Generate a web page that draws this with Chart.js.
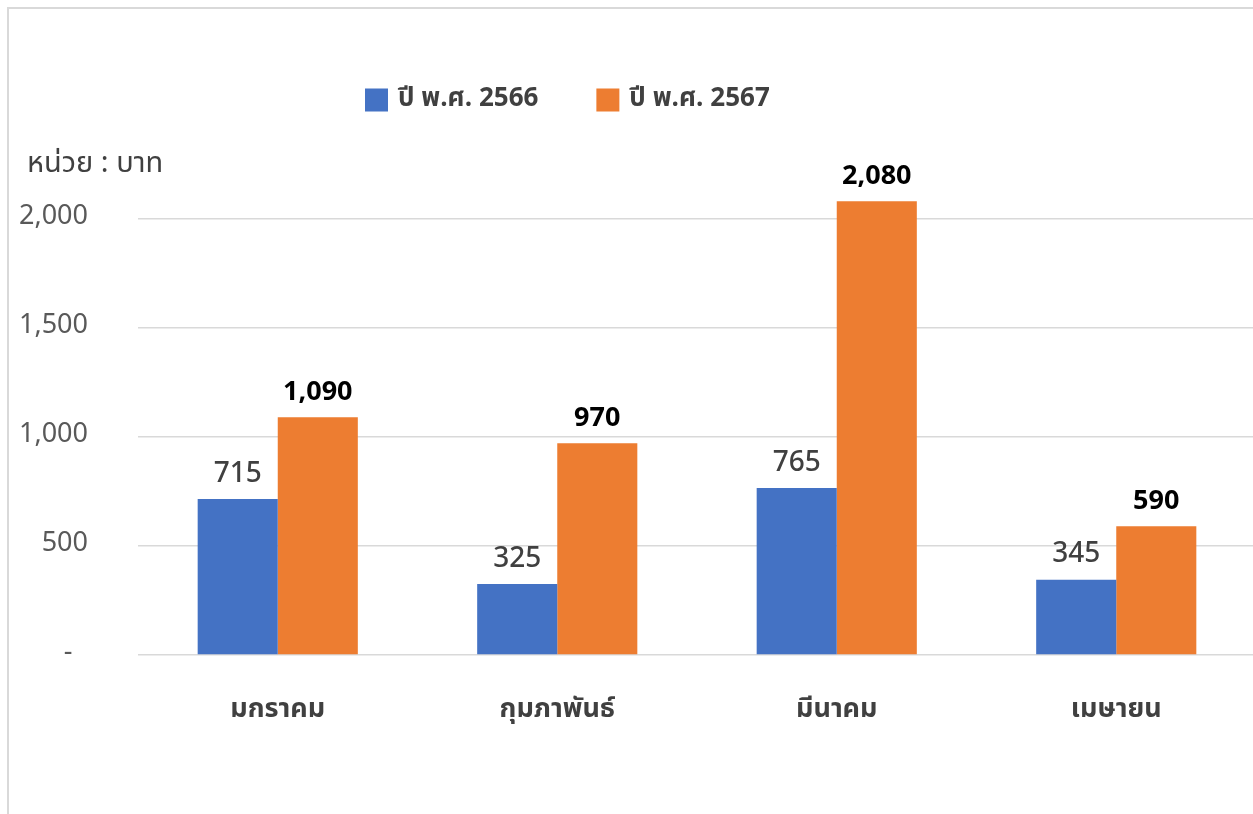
<!DOCTYPE html>
<html>
<head>
<meta charset="utf-8">
<script src="https://cdn.jsdelivr.net/npm/chart.js@4.4.1/dist/chart.umd.min.js"></script>
<style>
  html, body { margin: 0; padding: 0; background: #ffffff; overflow: hidden; }
  #wrap { position: absolute; left: 0; top: 0; width: 1256px; height: 814px; }
</style>
</head>
<body>
<div id="wrap"><canvas id="c"></canvas></div>
<script>
const categories = ['มกราคม', 'กุมภาพันธ์', 'มีนาคม', 'เมษายน'];
const seriesNames = ['ปี พ.ศ. 2566', 'ปี พ.ศ. 2567'];
const values2566 = [715, 325, 765, 345];
const values2567 = [1090, 970, 2080, 590];
const yTickValues = [0, 500, 1000, 1500, 2000];
const unitLabel = 'หน่วย : บาท';

const FONT = "'Noto Sans Thai', 'Noto Sans', 'DejaVu Sans', sans-serif";
const COLORS = ['#4472C4', '#ED7D31'];

function fmt(v) {
  return v === 0 ? '-\u2007' : v.toLocaleString('en-US');
}

const framePlugin = {
  id: 'frame',
  beforeDraw(chart) {
    const ctx = chart.ctx;
    ctx.save();
    ctx.fillStyle = '#ffffff';
    ctx.fillRect(0, 0, chart.width, chart.height);
    ctx.strokeStyle = '#d9d9d9';
    ctx.lineWidth = 2;
    ctx.beginPath();
    ctx.moveTo(8, chart.height);
    ctx.lineTo(8, 8);
    ctx.lineTo(chart.width, 8);
    ctx.stroke();
    ctx.restore();
  }
};

const extrasPlugin = {
  id: 'extras',
  afterDatasetsDraw(chart) {
    const ctx = chart.ctx;
    ctx.save();
    // data labels
    chart.data.datasets.forEach((ds, di) => {
      const meta = chart.getDatasetMeta(di);
      ctx.font = (di === 1 ? 'bold 27px ' : '500 28px ') + FONT;
      ctx.fillStyle = di === 1 ? '#000000' : '#404040';
      ctx.textAlign = 'center';
      ctx.textBaseline = 'middle';
      meta.data.forEach((el, i) => {
        ctx.fillText(fmt(ds.data[i]), el.x, el.y - 23);
      });
    });
    // unit label
    ctx.font = '29px ' + FONT;
    ctx.fillStyle = '#404040';
    ctx.textAlign = 'left';
    ctx.textBaseline = 'middle';
    ctx.fillText(unitLabel, 27, 166);
    // legend
    let x = 365;
    const yc = 100;
    ctx.font = 'bold 26px ' + FONT;
    chart.data.datasets.forEach((ds, di) => {
      ctx.fillStyle = ds.backgroundColor;
      ctx.fillRect(x, yc - 11.5, 23, 23);
      ctx.fillStyle = '#404040';
      ctx.fillText(ds.label, x + 33, yc + 1);
      x = x + 33 + ctx.measureText(ds.label).width + 58;
    });
    ctx.restore();
  }
};

new Chart(document.getElementById('c'), {
  type: 'bar',
  data: {
    labels: categories,
    datasets: [
      { label: seriesNames[0], data: values2566, backgroundColor: COLORS[0] },
      { label: seriesNames[1], data: values2567, backgroundColor: COLORS[1] }
    ]
  },
  options: {
    responsive: true,
    maintainAspectRatio: false,
    animation: false,
    devicePixelRatio: 1,
    layout: { padding: { left: 0, right: 0, top: 175, bottom: 0 } },
    datasets: { bar: { barPercentage: 1.0, categoryPercentage: 0.573 } },
    plugins: { legend: { display: false }, tooltip: { enabled: false } },
    scales: {
      x: {
        grid: { display: false },
        border: { display: false },
        ticks: { color: '#404040', font: { family: FONT, size: 27, weight: 'bold' }, padding: 32 },
        afterFit(scale) { scale.height = 159; }
      },
      y: {
        min: 0,
        max: 2200,
        afterBuildTicks(scale) { scale.ticks = yTickValues.map(v => ({ value: v })); },
        grid: { color: '#d9d9d9', lineWidth: 1.5, drawTicks: false },
        border: { display: false },
        ticks: { color: '#595959', font: { family: FONT, size: 27 }, padding: 50, callback: (v) => fmt(v) },
        afterFit(scale) { scale.width = 138; }
      }
    }
  },
  plugins: [framePlugin, extrasPlugin]
});
</script>
</body>
</html>
